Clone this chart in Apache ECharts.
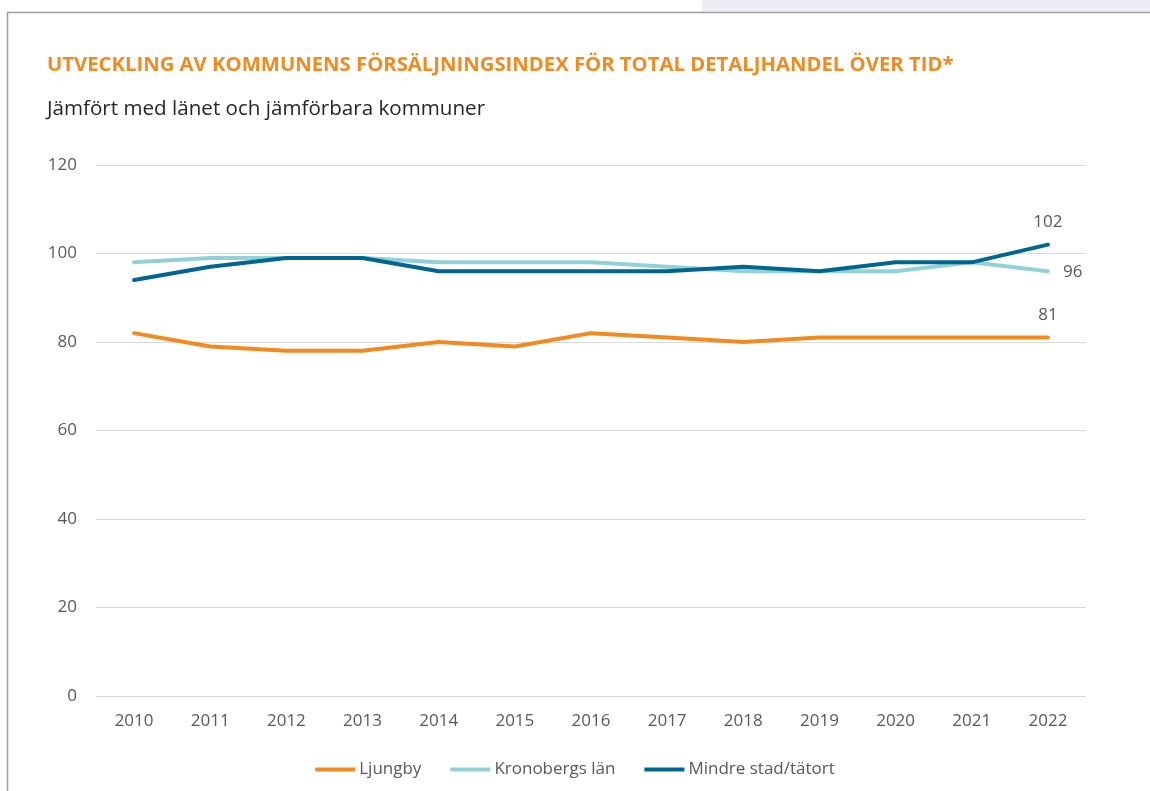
<!DOCTYPE html>
<html>
<head>
<meta charset="utf-8">
<script src="https://cdn.jsdelivr.net/npm/echarts@6/dist/echarts.min.js"></script>
<style>
html,body{margin:0;padding:0;background:#fff;}
#chart{width:1150px;height:791px;}
</style>
</head>
<body>
<div id="chart"></div>
<script>
const categories = ['2010','2011','2012','2013','2014','2015','2016','2017','2018','2019','2020','2021','2022'];
const ljungby = [82, 79, 78, 78, 80, 79, 82, 81, 80, 81, 81, 81, 81];
const kronoberg = [98, 99, 99, 99, 98, 98, 98, 97, 96, 96, 96, 98, 96];
const mindre = [94, 97, 99, 99, 96, 96, 96, 96, 97, 96, 98, 98, 102];
const seriesNames = ['Ljungby', 'Kronobergs län', 'Mindre stad/tätort'];
const titleText = 'UTVECKLING AV KOMMUNENS FÖRSÄLJNINGSINDEX FÖR TOTAL DETALJHANDEL ÖVER TID*';
const subtitleText = 'Jämfört med länet och jämförbara kommuner';

const FONT = '"Open Sans", "Noto Sans", sans-serif';
const colors = ['#F28A1F', '#92D1D5', '#00668E'];

function lastLabel(data, position, offset) {
  return data.map((v, i) => i === data.length - 1
    ? { value: v, label: { show: true, position: position, offset: offset, color: '#595959', fontSize: 17, fontFamily: FONT } }
    : v);
}

function lineSeries(idx, data, pos, off, z) {
  return {
    name: seriesNames[idx], type: 'line', data: lastLabel(data, pos, off),
    showSymbol: true, symbol: 'circle', symbolSize: 0,
    label: { show: false },
    lineStyle: { width: 4, color: colors[idx], cap: 'round', join: 'round' },
    itemStyle: { color: colors[idx] }, z: z
  };
}

const chart = echarts.init(document.getElementById('chart'), null, { renderer: 'canvas' });
chart.setOption({
  animation: false,
  backgroundColor: '#fff',
  graphic: [
    { type: 'rect', shape: { x: 702, y: 0, width: 448, height: 12 }, style: { fill: '#EFEDF3' }, silent: true },
    { type: 'line', shape: { x1: 7, y1: 12.5, x2: 1150, y2: 12.5 }, style: { stroke: '#A0A0A0', lineWidth: 1.5 }, silent: true },
    { type: 'line', shape: { x1: 7.5, y1: 12, x2: 7.5, y2: 791 }, style: { stroke: '#A0A0A0', lineWidth: 1.5 }, silent: true }
  ],
  title: [
    { text: titleText, left: 42, top: 50, textStyle: { color: '#F28A1F', fontSize: 20.3, fontWeight: 'bold', fontFamily: FONT } },
    { text: subtitleText, left: 42, top: 94, textStyle: { color: '#262626', fontSize: 20.6, fontWeight: 'normal', fontFamily: FONT } }
  ],
  legend: {
    top: 756,
    left: 'center',
    itemWidth: 40,
    itemHeight: 4,
    itemGap: 29,
    icon: 'rect',
    textStyle: { color: '#595959', fontSize: 17, fontFamily: FONT, padding: [0, 0, 0, -1] },
    data: seriesNames
  },
  grid: { left: 96, right: 64, top: 165, bottom: 95 },
  xAxis: {
    type: 'category',
    data: categories,
    boundaryGap: true,
    axisLine: { show: false },
    axisTick: { show: false },
    axisLabel: { color: '#595959', fontSize: 17, fontFamily: FONT, margin: 17 }
  },
  yAxis: {
    type: 'value',
    min: 0, max: 120, interval: 20,
    axisLine: { show: false },
    axisTick: { show: false },
    axisLabel: { color: '#595959', fontSize: 17, fontFamily: FONT, margin: 19 },
    splitLine: { lineStyle: { color: '#D9D9D9', width: 1 } }
  },
  series: [
    lineSeries(0, ljungby, 'top', [0, -9], 3),
    lineSeries(1, kronoberg, 'right', [10, 1], 2),
    lineSeries(2, mindre, 'top', [0, -9], 4)
  ]
});
</script>
</body>
</html>
